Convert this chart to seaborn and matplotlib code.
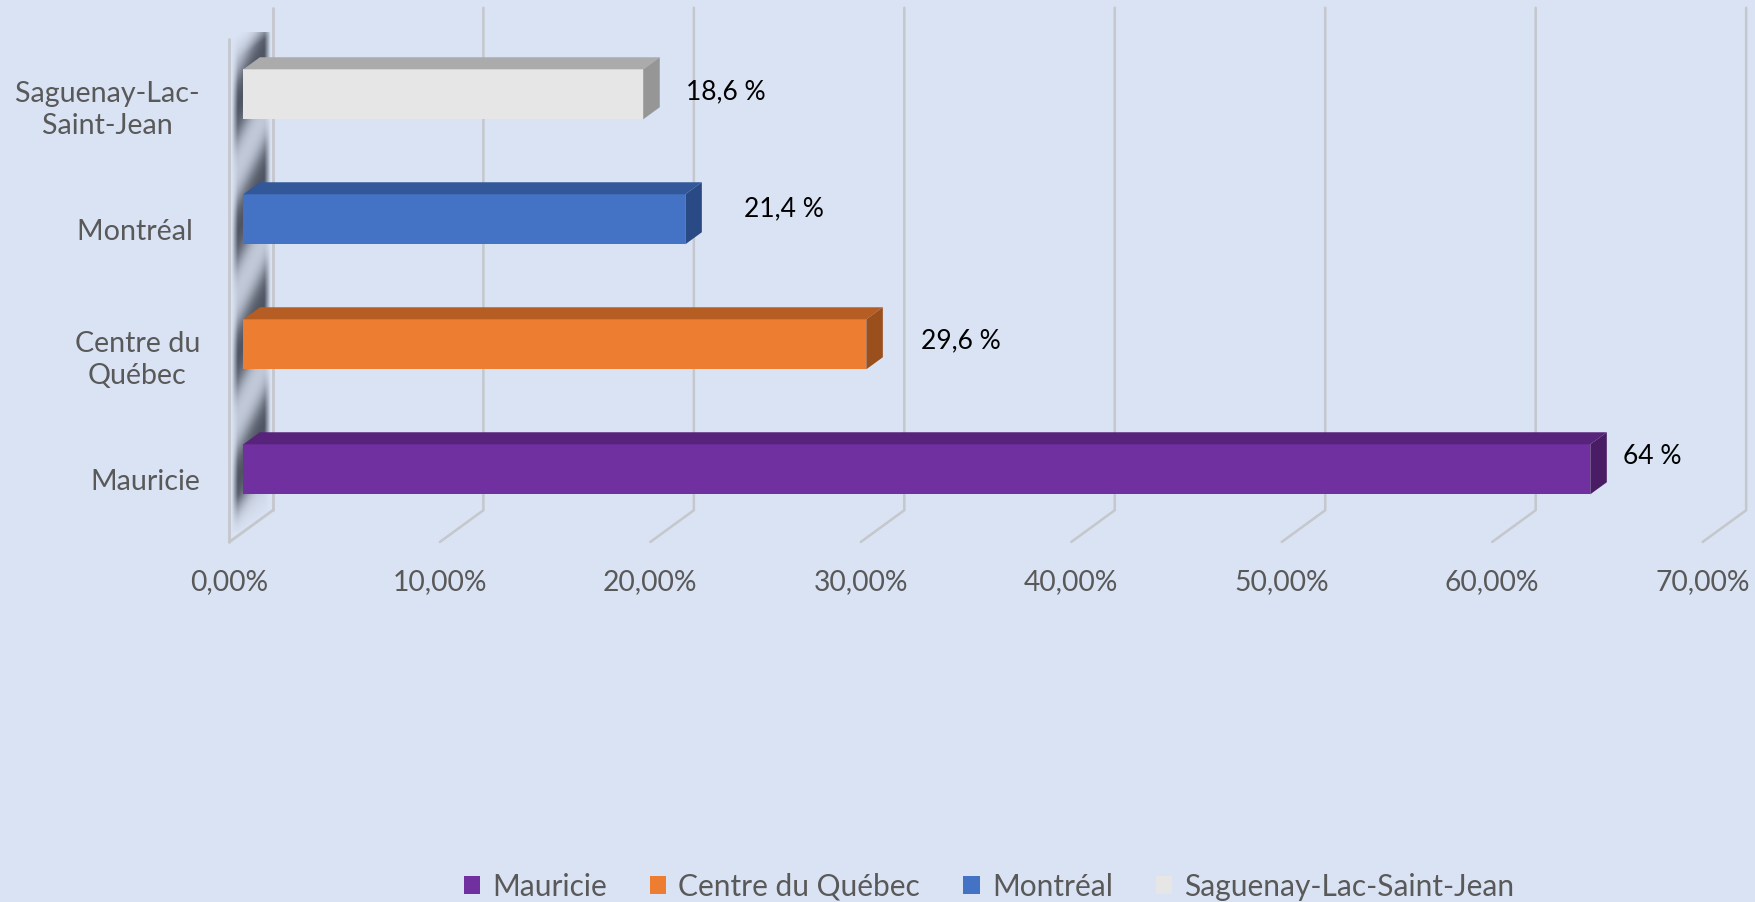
import numpy as np
import pandas as pd
import matplotlib
matplotlib.use('Agg')
import matplotlib.pyplot as plt
import seaborn as sns
from matplotlib.patches import Polygon, Patch

# data
regions = ['Saguenay-Lac-Saint-Jean', 'Montréal', 'Centre du Québec', 'Mauricie']
tick_names = ['Saguenay-Lac-\nSaint-Jean', 'Montréal ', 'Centre du\nQuébec', 'Mauricie']
values = [19.0, 21.0, 29.6, 64.0]
value_labels = ['18,6 %', '21,4 %', '29,6 %', '64 %']
x_ticks = [0, 10, 20, 30, 40, 50, 60, 70]
legend_order = ['Mauricie', 'Centre du Québec', 'Montréal', 'Saguenay-Lac-Saint-Jean']

# style
BG = '#DAE3F3'
GRID = '#C4C7CC'
TXT = '#595959'
front = {'Mauricie': '#7030A0', 'Centre du Québec': '#ED7D31',
         'Montréal': '#4472C4', 'Saguenay-Lac-Saint-Jean': '#E7E6E6'}
top = {'Mauricie': '#57237B', 'Centre du Québec': '#B55D22',
       'Montréal': '#32589A', 'Saguenay-Lac-Saint-Jean': '#ABABAB'}
side = {'Mauricie': '#4A1C66', 'Centre du Québec': '#9A4F1D',
        'Montréal': '#2A4A85', 'Saguenay-Lac-Saint-Jean': '#969696'}
# label nudges (points) for the data labels, as placed in the original
lab_dx = [30.5, 42.5, 39.4, 23.5]
lab_dy = [1.9, 7.9, 2.4, 9.1]

# pseudo-3d depth vector (data units for one full wall depth)
DX = 2.067
DY = -0.2536
D_FRONT, D_BACK, BAR_D = -0.32, 0.68, 0.38
Y_TOP, Y_FLOOR = -0.52, 3.5


def P(x, y, d):
    return x + d * DX, y + d * DY


sns.set_style('white')
plt.rcParams['font.family'] = ['Lato', 'DejaVu Sans']

df = pd.DataFrame({'region': regions, 'value': values})

fig = plt.figure(figsize=(17.55, 9.02), dpi=100, facecolor=BG)
ax = fig.add_axes([0.12667, 0.41042, 0.86342, 0.55432])
ax.set_facecolor(BG)

sns.barplot(data=df, x='value', y='region', hue='region', order=regions, hue_order=regions,
            palette=front, width=0.4, orient='h', saturation=1, legend=False, ax=ax,
            linewidth=0, edgecolor='none', zorder=3)

# 3d faces of the bars
for p in ax.patches:
    y0, h, w = p.get_y(), p.get_height(), p.get_width()
    name = regions[int(round(y0 + h / 2))]
    ax.add_patch(Polygon([P(0, y0, 0), P(w, y0, 0), P(w, y0, BAR_D), P(0, y0, BAR_D)],
                         closed=True, fc=top[name], ec='none', zorder=3))
    ax.add_patch(Polygon([P(w, y0, 0), P(w, y0 + h, 0), P(w, y0 + h, BAR_D), P(w, y0, BAR_D)],
                         closed=True, fc=side[name], ec='none', zorder=3))

# left wall, with the blurred shadows the bars throw on it
xf, xb = P(0, 0, D_FRONT)[0], P(0, 0, D_BACK)[0]
yt_img, yb_img = P(0, Y_TOP, D_BACK)[1], P(0, Y_FLOOR, D_FRONT)[1]
xs = np.linspace(xf, xb, 90)
ys = np.linspace(yt_img, yb_img, 900)
X, Y = np.meshgrid(xs, ys)
u = (X - xf) / (xb - xf)
dd = D_FRONT + u
wt = Y_TOP + dd * DY
wb = Y_FLOOR + dd * DY
v = (Y - wt) / (wb - wt)
shade = np.zeros_like(X)
for i in range(len(regions)):
    c = i + 0.23 - 0.71 * u
    shade += 1 / (1 + np.exp(-(0.25 - np.abs(Y - c)) / 0.07))
shade = np.clip(shade, 0, 1)
across = np.clip((u - 0.06) / 0.14, 0, 1) * np.clip((0.95 - u) / 0.14, 0, 1)
alpha = (0.12 + 0.8 * shade) * across
alpha *= np.clip(v / 0.05, 0, 1) * np.clip((1 - v) / 0.08, 0, 1)
alpha[(v < 0) | (v > 1)] = 0
rgba = np.zeros((len(ys), len(xs), 4))
rgba[..., 0], rgba[..., 1], rgba[..., 2] = 0.25, 0.27, 0.32
rgba[..., 3] = alpha
ax.imshow(rgba, extent=(xf, xb, yb_img, yt_img), origin='upper', aspect='auto',
          interpolation='bilinear', zorder=1)

wall_pts = [P(0, Y_TOP, D_FRONT), P(0, Y_FLOOR, D_FRONT), P(0, Y_FLOOR, D_BACK), P(0, Y_TOP, D_BACK)]
for a, b in [(0, 1), (1, 2), (2, 3)]:
    ax.plot([wall_pts[a][0], wall_pts[b][0]], [wall_pts[a][1], wall_pts[b][1]],
            color=GRID, lw=2, zorder=2, clip_on=False, solid_capstyle='round')

# gridlines: back wall + floor
for t in x_ticks[1:]:
    pts = [P(t, Y_TOP, D_BACK), P(t, Y_FLOOR, D_BACK), P(t, Y_FLOOR, D_FRONT)]
    ax.plot([q[0] for q in pts], [q[1] for q in pts], color=GRID, lw=1.8, zorder=1.5,
            clip_on=False, solid_joinstyle='miter')

# data labels
for i, (val, lab) in enumerate(zip(values, value_labels)):
    ax.annotate(lab, xy=(val, i), xytext=(lab_dx[i], lab_dy[i]), textcoords='offset points',
                ha='left', va='center', fontsize=19, color='black', zorder=4)

ax.set_xlim(-1, 71)
ax.set_ylim(3.5, -0.5)

ax.set_xticks([P(t, 0, D_FRONT)[0] for t in x_ticks])
ax.set_xticklabels([f'{t:.2f}'.replace('.', ',') + '%' for t in x_ticks])
ax.set_yticks([P(0, i, D_FRONT)[1] for i in range(len(regions))])
ax.set_yticklabels(tick_names)
for t in ax.get_yticklabels():
    t.set_multialignment('center')
    t.set_linespacing(1.28)
ax.tick_params(axis='x', length=0, pad=27, labelsize=20.3, labelcolor=TXT)
ax.tick_params(axis='y', length=0, pad=16, labelsize=20.6, labelcolor=TXT)
ax.set_xlabel('')
ax.set_ylabel('')
for s in ax.spines.values():
    s.set_visible(False)

handles = [Patch(facecolor=front[n], edgecolor='none') for n in legend_order]
fig.legend(handles, legend_order, loc='center', bbox_to_anchor=(989 / 1755, 1 - 887 / 902),
           ncol=4, frameon=False, fontsize=21.5, handlelength=0.55, handleheight=0.55,
           handletextpad=0.4, columnspacing=1.45, labelcolor=TXT)

fig.savefig('out.png', dpi=100, facecolor=BG)
